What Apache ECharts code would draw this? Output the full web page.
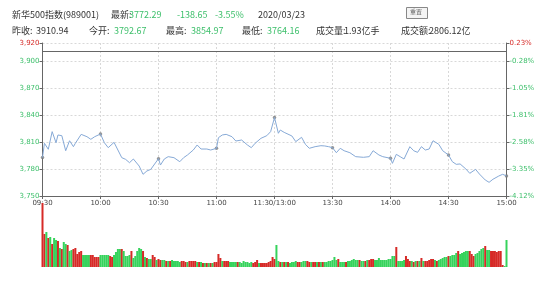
<!DOCTYPE html>
<html><head><meta charset="utf-8">
<script src="https://cdn.jsdelivr.net/npm/echarts@6/dist/echarts.min.js"></script>
<style>html,body{margin:0;padding:0;background:#fff}#c{width:546px;height:289px}</style>
</head><body><div id="c"></div>
<script>
const prevClose = 3910.94;
const timeLabels = ['09:30','10:00','10:30','11:00','11:30/13:00','13:30','14:00','14:30','15:00'];
const markerMinutes = [0,30,60,90,120,150,180,210,240];
const priceMinutes = [0,1,3,5,7,8,10,12,14,16,17,18,20,23,25,27,30,32,34,35,37,39,41,43,45,47,50,52,54,56,57,
  60,61,63,65,68,71,73,75,78,80,82,85,87,90,91,93,95,98,100,103,106,108,110,113,116,118,
  120,122,123,125,129,131,134,136,138,141,144,146,148,150,152,154,156,159,162,166,169,171,174,176,
  180,181,183,185,187,190,192,194,196,198,200,202,205,207,210,212,214,216,219,221,224,226,229,231,233,236,238,240];
const priceValues = [3792.7,3808.6,3801.9,3821.5,3809.2,3817.8,3817.0,3800.3,3811.4,3804.8,3808.6,3810.4,3818.5,3815.9,3813.0,3815.9,3818.9,3809.2,3803.7,3804.1,3809.6,3801.1,3792.6,3790.7,3787.0,3791.1,3783.3,3774.1,3777.8,3779.6,3777.8,
  3791.5,3784.4,3791.1,3793.7,3792.6,3788.1,3792.6,3795.6,3801.1,3806.7,3802.2,3802.2,3801.1,3803.0,3814.8,3817.8,3818.5,3815.9,3811.1,3812.2,3806.7,3803.7,3808.6,3814.1,3817.0,3821.5,
  3837.2,3819.7,3823.3,3820.7,3816.7,3810.4,3815.2,3807.4,3803.0,3804.8,3805.9,3805.6,3804.8,3803.7,3798.1,3803.0,3800.3,3798.1,3793.7,3793.0,3793.7,3800.3,3795.6,3793.7,
  3791.9,3786.3,3796.3,3793.7,3791.1,3804.8,3800.3,3798.5,3804.8,3801.1,3802.2,3811.4,3807.4,3800.3,3795.6,3788.1,3785.2,3785.6,3780.0,3775.2,3779.6,3774.4,3767.8,3765.2,3768.6,3772.2,3774.1,3772.3];
// volume per minute (万手), 241 minutes
const volumes = [640,330,350,290,300,230,290,270,260,190,180,250,230,220,160,170,180,190,130,150,160,120,120,120,120,120,120,100,100,100,
  120,120,120,120,120,110,100,120,150,180,180,180,160,110,110,120,160,90,110,160,190,180,160,100,90,80,80,120,100,70,
  80,70,70,70,60,60,60,70,60,60,60,50,60,60,50,50,60,60,60,60,50,50,50,40,40,40,40,40,40,50,
  50,130,90,60,60,60,60,50,50,50,50,50,50,40,60,50,50,40,50,40,50,70,40,40,40,40,40,50,60,100,
  80,220,60,50,50,50,50,50,40,50,50,60,50,50,50,60,60,60,50,50,50,50,50,50,50,50,50,50,60,60,
  70,100,70,80,50,50,50,50,60,60,70,80,70,70,70,60,60,60,70,70,80,80,70,70,90,70,70,70,70,80,
  80,110,110,200,60,60,60,70,110,80,60,60,50,60,60,60,90,60,60,60,70,80,80,70,60,70,80,90,100,100,
  110,110,120,120,140,160,130,140,150,160,160,160,130,110,130,140,160,180,190,210,170,170,160,160,160,150,160,160,20,10,
  270];
// 1 = up (red), -1 = down (green)
const volumeDir = [1,1,-1,1,-1,1,-1,-1,1,-1,1,-1,-1,1,-1,-1,1,1,1,1,1,-1,-1,-1,-1,1,1,1,1,1,
  -1,-1,-1,-1,-1,1,1,-1,-1,-1,-1,1,-1,-1,-1,-1,1,-1,-1,-1,-1,-1,1,-1,1,-1,-1,1,1,-1,
  1,1,-1,-1,1,-1,1,-1,-1,-1,-1,-1,1,1,1,-1,1,1,1,1,-1,1,-1,1,-1,1,-1,1,-1,1,
  1,1,1,-1,1,1,1,-1,-1,-1,-1,1,-1,-1,-1,-1,-1,-1,-1,1,1,1,-1,1,1,1,1,1,1,1,
  1,-1,-1,1,-1,1,-1,1,-1,-1,-1,-1,1,1,-1,-1,-1,1,1,-1,1,1,-1,1,-1,1,-1,-1,-1,-1,
  -1,-1,-1,1,-1,-1,-1,1,-1,-1,-1,-1,-1,-1,1,-1,-1,1,-1,1,1,1,-1,-1,-1,-1,-1,-1,-1,-1,
  -1,-1,-1,1,-1,-1,-1,-1,1,1,1,-1,1,-1,1,-1,1,-1,1,1,1,1,1,-1,1,-1,-1,-1,-1,-1,
  1,-1,-1,-1,-1,1,-1,-1,-1,-1,-1,1,1,1,-1,-1,-1,-1,-1,1,-1,-1,1,1,1,1,1,1,1,-1,
  -1];
const header = {
  name: '新华500指数(989001)', latest: '3772.29', change: '-138.65', pct: '-3.55%', date: '2020/03/23',
  prev: '3910.94', open: '3792.67', high: '3854.97', low: '3764.16', vol: '1.93亿手', amount: '2806.12亿'
};

const RED = '#d62a27', GREEN = '#36d35c', LBL_GREEN = '#3cbf6a';
const priceData = priceMinutes.map((m, i) => [m, priceValues[i]]);
const markerData = priceData.filter(p => markerMinutes.includes(p[0]));
const volData = volumes.map((v, i) => ({value: [i, v], itemStyle: {color: volumeDir[i] > 0 ? RED : GREEN}}));
const fmtComma = v => { const s = Math.round(v).toString(); return s.slice(0, s.length - 3) + ',' + s.slice(-3); };
const pctOf = v => ((v / prevClose - 1) * 100).toFixed(2) + '%';
const hdrFont = '"Noto Sans CJK SC", sans-serif';
const txt = (x, y, t, color) => ({type: 'text', left: x, top: y, style: {text: t, fill: color, font: '9px ' + hdrFont}});

const chart = echarts.init(document.getElementById('c'), null, {renderer: 'canvas'});
chart.setOption({
  animation: false,
  backgroundColor: '#fff',
  graphic: [
    txt(12, 10, header.name, '#333'),
    txt(111, 10, '最新:', '#333'),
    txt(129, 10, header.latest, LBL_GREEN),
    txt(177, 10, header.change, LBL_GREEN),
    txt(215, 10, header.pct, LBL_GREEN),
    txt(258, 10, header.date, '#333'),
    txt(12, 26, '昨收:', '#333'), txt(36, 26, header.prev, '#333'),
    txt(89, 26, '今开:', '#333'), txt(114, 26, header.open, LBL_GREEN),
    txt(166, 26, '最高:', '#333'), txt(191, 26, header.high, LBL_GREEN),
    txt(242, 26, '最低:', '#333'), txt(267, 26, header.low, LBL_GREEN),
    txt(316, 26, '成交量:', '#333'), txt(344, 26, header.vol, '#333'),
    txt(401, 26, '成交额:', '#333'), txt(429, 26, header.amount, '#333'),
    {type: 'rect', left: 406, top: 7, shape: {width: 21, height: 11}, style: {fill: '#f4f4f4', stroke: '#888', lineWidth: 1}},
    {type: 'text', left: 410, top: 8.5, style: {text: '重置', fill: '#666', font: '6px ' + hdrFont}}
  ],
  grid: [
    {left: 42.5, right: 39.5, top: 43, height: 153},
    {left: 42.5, right: 39.5, top: 203, height: 64}
  ],
  xAxis: [
    {type: 'value', gridIndex: 0, min: 0, max: 240, interval: 30,
     axisLine: {show: true, lineStyle: {color: '#666'}},
     axisTick: {show: true, length: 3, lineStyle: {color: '#666'}},
     axisLabel: {color: '#444', fontSize: 7, fontFamily: 'DejaVu Sans', margin: 4,
                 formatter: v => timeLabels[Math.round(v / 30)]},
     splitLine: {show: true, lineStyle: {color: '#d8d8d8', type: [2, 2]}}},
    {type: 'value', gridIndex: 1, min: 0, max: 240, show: false}
  ],
  yAxis: [
    {type: 'value', gridIndex: 0, min: 3750, max: 3920, interval: 30,
     axisLine: {show: true, lineStyle: {color: '#666'}},
     axisTick: {show: true, length: 3, lineStyle: {color: '#666'}},
     axisLabel: {fontSize: 7, fontFamily: 'DejaVu Sans', margin: 3, formatter: fmtComma,
                 color: v => v >= prevClose ? RED : LBL_GREEN},
     splitLine: {show: true, lineStyle: {color: '#d8d8d8', type: [2, 2]}}},
    {type: 'value', gridIndex: 0, position: 'right', min: 3750, max: 3920, interval: 30,
     axisLine: {show: true, lineStyle: {color: '#666'}},
     axisTick: {show: true, length: 3, lineStyle: {color: '#666'}},
     axisLabel: {fontSize: 7, fontFamily: 'DejaVu Sans', margin: 3, formatter: pctOf,
                 color: v => v >= prevClose ? RED : LBL_GREEN},
     splitLine: {show: false}},
    {type: 'value', gridIndex: 1, min: 0, max: 640, show: false}
  ],
  series: [
    {type: 'line', xAxisIndex: 0, yAxisIndex: 0, data: priceData, showSymbol: false,
     lineStyle: {color: '#86a9d6', width: 1}, silent: true,
     markLine: {silent: true, symbol: 'none', label: {show: false},
                lineStyle: {color: '#666', type: 'solid', width: 1},
                data: [{yAxis: prevClose}]}},
    {type: 'scatter', xAxisIndex: 0, yAxisIndex: 0, data: markerData, symbolSize: 3.5,
     itemStyle: {color: '#7a7a7a'}, silent: true},
    {type: 'bar', xAxisIndex: 1, yAxisIndex: 2, data: volData, barWidth: 2, silent: true}
  ]
});
</script></body></html>
